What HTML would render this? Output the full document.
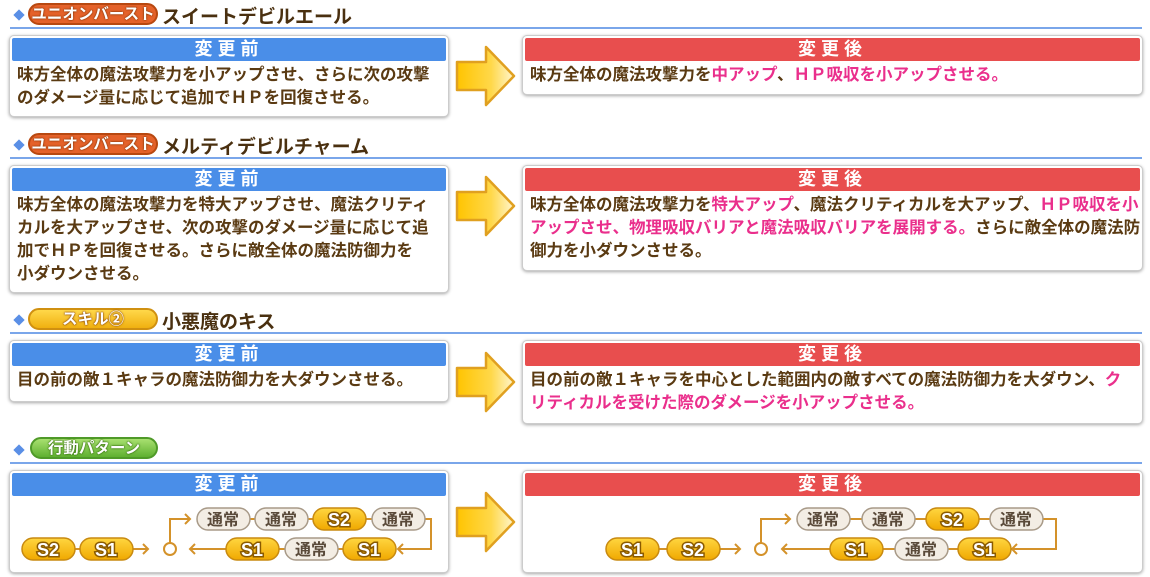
<!DOCTYPE html>
<html><head><meta charset="utf-8"><style>
*{margin:0;padding:0;box-sizing:border-box}
body{width:1150px;height:577px;background:#fff;position:relative;overflow:hidden;font-family:"Liberation Sans","Noto Sans CJK JP",sans-serif;font-weight:bold;color:#5a3a12}
.a{position:absolute}
.dia{position:absolute;width:8px;height:8px;background:#5a8fe6;transform:rotate(45deg)}
.line{position:absolute;left:10px;width:1132px;height:2px;background:#7aa6ea}
.tag{position:absolute;height:22px;border-radius:11px;color:#fff;font-size:15.5px;text-align:center;line-height:19px;text-shadow:0 0 2px #7a3000,0 0 1px #7a3000}
.ttl{position:absolute;font-size:19px;color:#4a3010}
.box{position:absolute;background:#fff;border:1px solid #ccc;border-radius:5px;box-shadow:0 1px 3px rgba(0,0,0,.35)}
.hd{position:absolute;left:2px;right:2px;top:2px;height:23px;color:#fff;font-size:18px;text-align:center;line-height:23px;letter-spacing:5px;border-radius:2px}
.bl{background:#4a8ee8}.rd{background:#e84e4e}
.tx{position:absolute;left:7px;right:0;top:28px;font-size:16.5px;line-height:23px;white-space:nowrap}
.p{color:#ea2f8c}
</style></head><body>
<svg width="0" height="0" style="position:absolute"><defs>
<linearGradient id="ag" x1="0" x2="1"><stop offset="0" stop-color="#ffc400"/><stop offset=".6" stop-color="#ffd84a"/><stop offset="1" stop-color="#fff6d0"/></linearGradient>
</defs></svg>

<div class="dia" style="left:15px;top:11px"></div>
<div class="tag" style="left:28px;top:3px;width:130px;background:#e5622a;border:2px solid #b84810">ユニオンバースト</div>
<div class="ttl" style="left:162px;top:2px">スイートデビルエール</div>
<div class="line" style="top:27px"></div>
<div class="box" style="left:9px;top:35px;width:440px;height:82px"><div class="hd bl">変更前</div><div class="tx">味方全体の魔法攻撃力を小アップさせ、さらに次の攻撃<br>のダメージ量に応じて追加でＨＰを回復させる。</div></div>
<div class="box" style="left:522px;top:35px;width:621px;height:60px"><div class="hd rd">変更後</div><div class="tx">味方全体の魔法攻撃力を<span class="p">中アップ</span>、<span class="p">ＨＰ吸収を小アップさせる。</span></div></div>
<svg class="a" style="left:454px;top:44px" width="64" height="64"><path d="M3 18H32V3L60 32L32 61V46H3Z" fill="url(#ag)" stroke="#e0a020" stroke-width="2.5" stroke-linejoin="round"/></svg>

<div class="dia" style="left:15px;top:141px"></div>
<div class="tag" style="left:28px;top:133px;width:130px;background:#e5622a;border:2px solid #b84810">ユニオンバースト</div>
<div class="ttl" style="left:162px;top:132px">メルティデビルチャーム</div>
<div class="line" style="top:157px"></div>
<div class="box" style="left:9px;top:165px;width:440px;height:128px"><div class="hd bl">変更前</div><div class="tx">味方全体の魔法攻撃力を特大アップさせ、魔法クリティ<br>カルを大アップさせ、次の攻撃のダメージ量に応じて追<br>加でＨＰを回復させる。さらに敵全体の魔法防御力を<br>小ダウンさせる。</div></div>
<div class="box" style="left:522px;top:165px;width:621px;height:106px"><div class="hd rd">変更後</div><div class="tx">味方全体の魔法攻撃力を<span class="p">特大アップ</span>、魔法クリティカルを大アップ、<span class="p">ＨＰ吸収を小</span><br><span class="p">アップさせ、物理吸収バリアと魔法吸収バリアを展開する。</span>さらに敵全体の魔法防<br>御力を小ダウンさせる。</div></div>
<svg class="a" style="left:454px;top:174px" width="64" height="64"><path d="M3 18H32V3L60 32L32 61V46H3Z" fill="url(#ag)" stroke="#e0a020" stroke-width="2.5" stroke-linejoin="round"/></svg>

<div class="dia" style="left:15px;top:316px"></div>
<div class="tag" style="left:28px;top:308px;width:130px;background:linear-gradient(#ffd84a,#f0b010);border:2px solid #d09010">スキル②</div>
<div class="ttl" style="left:162px;top:307px">小悪魔のキス</div>
<div class="line" style="top:332px"></div>
<div class="box" style="left:9px;top:340px;width:440px;height:62px"><div class="hd bl">変更前</div><div class="tx">目の前の敵１キャラの魔法防御力を大ダウンさせる。</div></div>
<div class="box" style="left:522px;top:340px;width:621px;height:84px"><div class="hd rd">変更後</div><div class="tx">目の前の敵１キャラを中心とした範囲内の敵すべての魔法防御力を大ダウン、<span class="p">ク</span><br><span class="p">リティカルを受けた際のダメージを小アップさせる。</span></div></div>
<svg class="a" style="left:454px;top:350px" width="64" height="64"><path d="M3 18H32V3L60 32L32 61V46H3Z" fill="url(#ag)" stroke="#e0a020" stroke-width="2.5" stroke-linejoin="round"/></svg>

<div class="dia" style="left:15px;top:446px"></div>
<div class="tag" style="left:30px;top:437px;width:128px;background:linear-gradient(#a8e070,#5fb030);border:2px solid #4f9a28;text-shadow:0 0 2px #2a6000,0 0 1px #2a6000">行動パターン</div>
<div class="line" style="top:462px"></div>
<div class="box" style="left:9px;top:470px;width:440px;height:103px"><div class="hd bl">変更前</div></div>
<div class="box" style="left:522px;top:470px;width:621px;height:103px"><div class="hd rd">変更後</div></div>
<svg class="a" style="left:454px;top:490px" width="64" height="64"><path d="M3 18H32V3L60 32L32 61V46H3Z" fill="url(#ag)" stroke="#e0a020" stroke-width="2.5" stroke-linejoin="round"/></svg>

<svg class="a" style="left:0;top:0" width="1150" height="577" font-family="Liberation Sans, Noto Sans CJK JP, sans-serif" font-weight="bold">
<defs>
<linearGradient id="gy" x1="0" y1="0" x2="0" y2="1"><stop offset="0" stop-color="#ffd640"/><stop offset="1" stop-color="#f0a800"/></linearGradient>
<g id="S"><rect x="0" y="0" width="53" height="22" rx="11" fill="url(#gy)" stroke="#c88a10" stroke-width="1.5"/></g>
<g id="N"><rect x="0" y="0" width="53" height="22" rx="11" fill="#f3ede4" stroke="#a89a88" stroke-width="1.5"/></g>
</defs>
<g stroke="#d4922a" stroke-width="2" fill="none">
<line x1="75" y1="549" x2="80" y2="549"/><path d="M133 549H148M143 544l5 5-5 5"/>
<circle cx="170" cy="549" r="6" fill="#fff"/>
<path d="M170 543V519H190M185 514l5 5-5 5"/>
<line x1="250" y1="519" x2="255" y2="519"/><line x1="308" y1="519" x2="313" y2="519"/><line x1="366" y1="519" x2="372" y2="519"/>
<path d="M425 519H431V549H398M403 544l-5 5 5 5"/>
<line x1="279" y1="549" x2="285" y2="549"/><line x1="338" y1="549" x2="343" y2="549"/>
<path d="M226 549H190M195 544l-5 5 5 5"/>
<line x1="659" y1="549" x2="667" y2="549"/><path d="M720 549H740M735 544l5 5-5 5"/>
<circle cx="761" cy="549" r="6" fill="#fff"/>
<path d="M761 543V519H790M785 514l5 5-5 5"/>
<line x1="850" y1="519" x2="862" y2="519"/><line x1="915" y1="519" x2="926" y2="519"/><line x1="979" y1="519" x2="990" y2="519"/>
<path d="M1043 519H1056V549H1012M1017 544l-5 5 5 5"/>
<line x1="883" y1="549" x2="895" y2="549"/><line x1="948" y1="549" x2="958" y2="549"/>
<path d="M830 549H782M787 544l-5 5 5 5"/>
</g>
<g font-size="18" text-anchor="middle">
<use href="#S" x="22" y="538"/><text x="48" y="556" fill="#fff" stroke="#8a5a00" stroke-width="3" paint-order="stroke">S2</text>
<use href="#S" x="80" y="538"/><text x="106" y="556" fill="#fff" stroke="#8a5a00" stroke-width="3" paint-order="stroke">S1</text>
<use href="#N" x="197" y="508"/><text x="223" y="525" fill="#5a4a3a" font-size="16">通常</text>
<use href="#N" x="255" y="508"/><text x="281" y="525" fill="#5a4a3a" font-size="16">通常</text>
<use href="#S" x="313" y="508"/><text x="339" y="526" fill="#fff" stroke="#8a5a00" stroke-width="3" paint-order="stroke">S2</text>
<use href="#N" x="372" y="508"/><text x="398" y="525" fill="#5a4a3a" font-size="16">通常</text>
<use href="#S" x="226" y="538"/><text x="252" y="556" fill="#fff" stroke="#8a5a00" stroke-width="3" paint-order="stroke">S1</text>
<use href="#N" x="285" y="538"/><text x="311" y="555" fill="#5a4a3a" font-size="16">通常</text>
<use href="#S" x="343" y="538"/><text x="369" y="556" fill="#fff" stroke="#8a5a00" stroke-width="3" paint-order="stroke">S1</text>
<use href="#S" x="606" y="538"/><text x="632" y="556" fill="#fff" stroke="#8a5a00" stroke-width="3" paint-order="stroke">S1</text>
<use href="#S" x="667" y="538"/><text x="693" y="556" fill="#fff" stroke="#8a5a00" stroke-width="3" paint-order="stroke">S2</text>
<use href="#N" x="797" y="508"/><text x="823" y="525" fill="#5a4a3a" font-size="16">通常</text>
<use href="#N" x="862" y="508"/><text x="888" y="525" fill="#5a4a3a" font-size="16">通常</text>
<use href="#S" x="926" y="508"/><text x="952" y="526" fill="#fff" stroke="#8a5a00" stroke-width="3" paint-order="stroke">S2</text>
<use href="#N" x="990" y="508"/><text x="1016" y="525" fill="#5a4a3a" font-size="16">通常</text>
<use href="#S" x="830" y="538"/><text x="856" y="556" fill="#fff" stroke="#8a5a00" stroke-width="3" paint-order="stroke">S1</text>
<use href="#N" x="895" y="538"/><text x="921" y="555" fill="#5a4a3a" font-size="16">通常</text>
<use href="#S" x="958" y="538"/><text x="984" y="556" fill="#fff" stroke="#8a5a00" stroke-width="3" paint-order="stroke">S1</text>
</g>
</svg>
</body></html>
